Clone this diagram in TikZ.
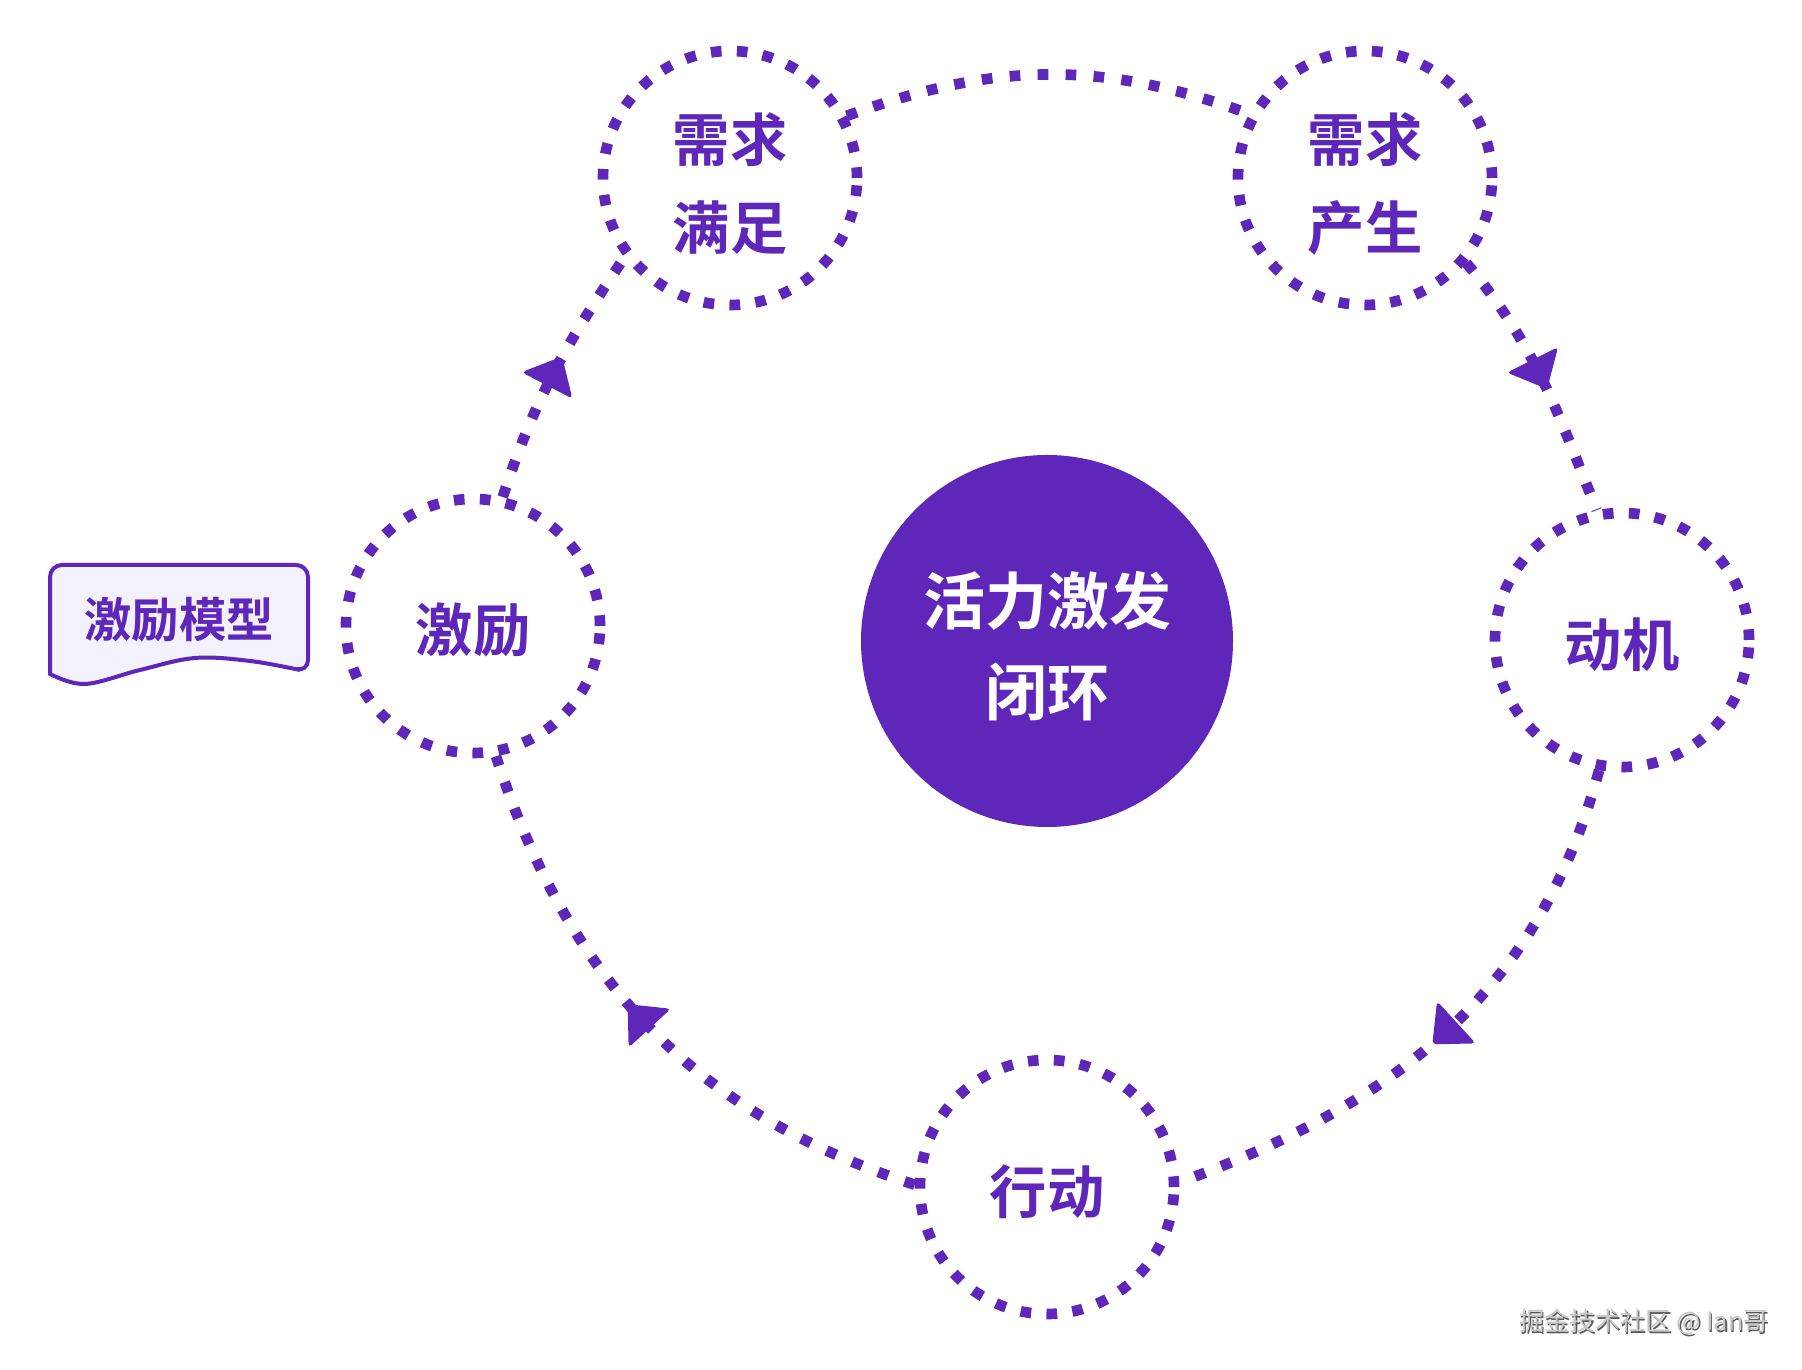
\documentclass[tikz,border=0pt]{standalone}
\usepackage{fontspec}
\newfontfamily\cjk{Noto Sans CJK SC}[BoldFont={* Bold}]
\usetikzlibrary{decorations.markings}
\definecolor{vio}{HTML}{5E27BA}
\definecolor{boxfill}{HTML}{F3F1FC}
\begin{document}
\begin{tikzpicture}[x=0.75pt,y=0.75pt,
  ring/.style={circle, draw=vio, line width=8pt, dash pattern=on 8pt off 11.5pt,
    minimum size=190.5pt, inner sep=0pt},
  ringtext/.style={text=vio, align=center, inner sep=0pt,
    font=\cjk\bfseries\fontsize{43pt}{66pt}\selectfont},
  core/.style={circle, fill=vio, minimum size=279pt, inner sep=0pt},
  coretext/.style={text=white, align=center, inner sep=0pt,
    font=\cjk\bfseries\fontsize{46.5pt}{68pt}\selectfont},
  conn/.style={draw=vio, line width=8pt, dash pattern=on 8pt off 13pt},
  arrowmark/.style={postaction={decorate, decoration={markings,
    mark=at position #1 with {\fill[vio, rounded corners=3pt] (13.5pt,0pt) -- (-11pt,21.5pt) -- (-11pt,-21.5pt) -- cycle;}}}},
  wmark/.style={font=\cjk\fontsize{19pt}{19pt}\selectfont, anchor=east}
]
\useasboundingbox (0,0) rectangle (1802,1370);

% central node
\node[core] (cc) at (1047,729) {};
\node[coretext] (cct) at (1047,724) {活力激发\\闭环};

% ring nodes
\node[ring] (sm) at (730,1192) {};
\node[ring] (sc) at (1365,1192) {};
\node[ring] (dj) at (1622,730) {};
\node[ring] (xd) at (1047,183) {};
\node[ring] (jl) at (473,744) {};
\node[ringtext] (smt) at (730,1186) {需求\\满足};
\node[ringtext] (sct) at (1365,1186) {需求\\产生};
\node[ringtext] (djt) at (1622,725) {动机};
\node[ringtext] (xdt) at (1047,178) {行动};
\node[ringtext] (jlt) at (473,740) {激励};

% connectors
\draw[conn] (sm.28) to[out=20,in=160] (sc.151);
\draw[conn, arrowmark=0.47] (sc.-40) to[out=-50,in=112] (dj.101);
\draw[conn, arrowmark=0.5] (dj.-100) to[out=-105,in=20] (xd.2);
\draw[conn, arrowmark=0.52] (xd.179) to[out=162,in=-72] (jl.-80);
\draw[conn, arrowmark=0.5] (jl.77) to[out=72,in=236] (sm.-143);

% label box
\filldraw[draw=vio, fill=boxfill, line width=3pt]
  (50,700) [rounded corners=9pt] -- (50,805) -- (308,805) -- (308,698) [sharp corners]
  -- plot[smooth, tension=0.6] coordinates {(300,700) (250,709) (195,712) (140,700) (85,686) (50,696)} -- cycle;
\node[font=\cjk\bfseries\fontsize{35.5pt}{40pt}\selectfont, text=vio] (model) at (179,750) {激励模型};

% watermark
\node[wmark, text=black!65] (wms) at (1775,46.5) {掘金技术社区 @ Ian哥};
\node[wmark, text=black!22] (wm) at (1773.5,48) {掘金技术社区 @ Ian哥};
\end{tikzpicture}
\end{document}
